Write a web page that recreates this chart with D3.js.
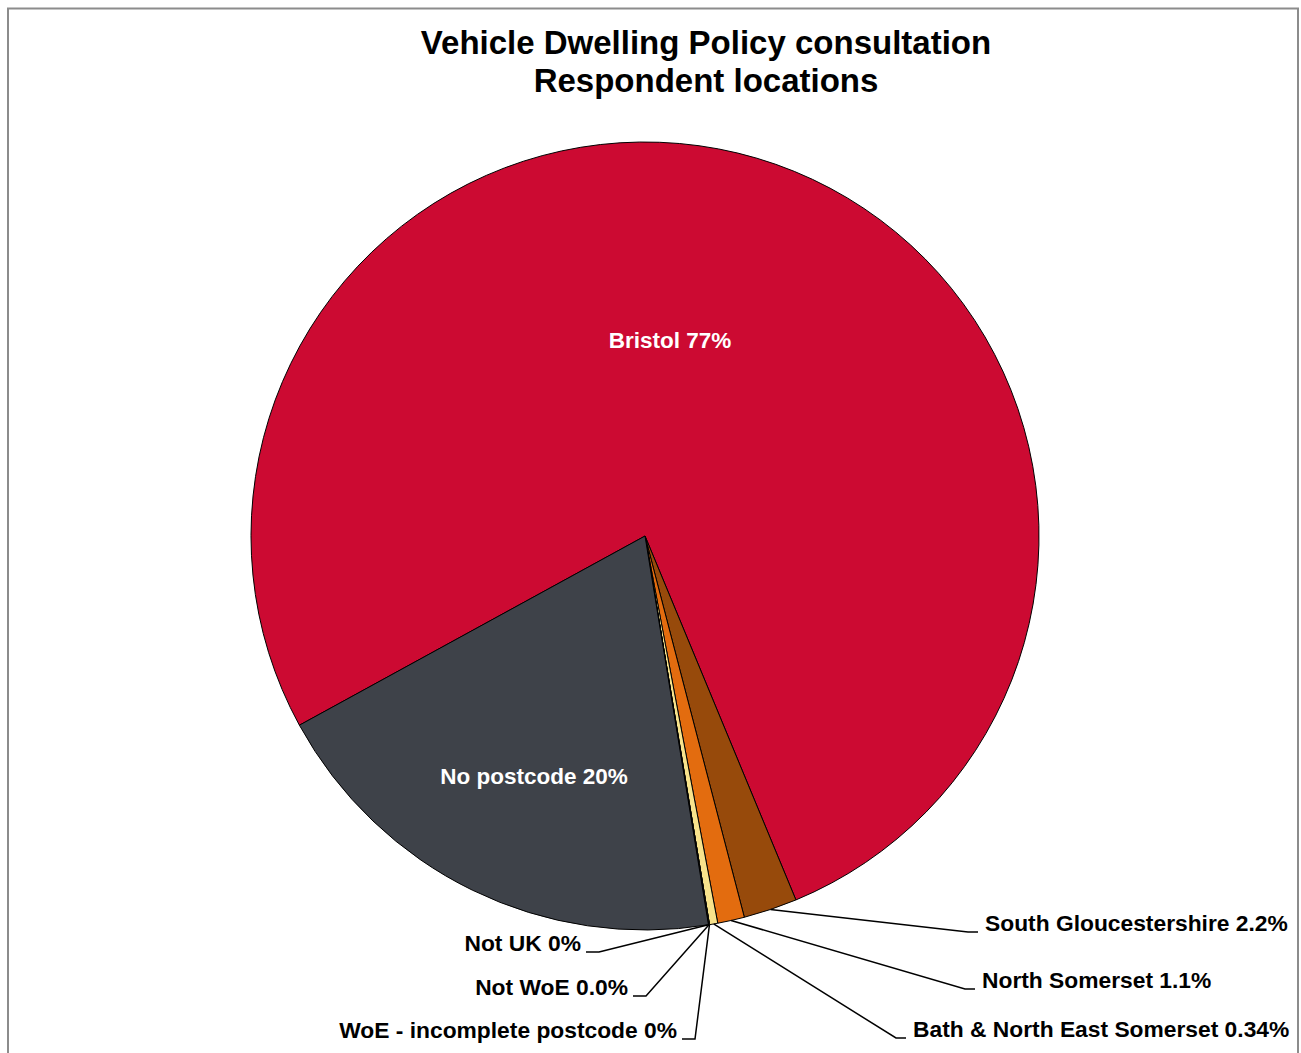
<!DOCTYPE html>
<html>
<head>
<meta charset="utf-8">
<script src="https://cdn.jsdelivr.net/npm/d3@7"></script>
<style>
  body { margin: 0; background: #fff; }
  text { font-family: "Liberation Sans", Arial, sans-serif; font-weight: bold; }
</style>
</head>
<body>
<div id="chart"></div>
<script>
var w = 1301;
var h = 1053;

// data, in drawing order (clockwise)
var categories = ["Bristol", "South Gloucestershire", "North Somerset",
                  "Bath & North East Somerset", "WoE - incomplete postcode",
                  "Not WoE", "Not UK", "No postcode"];
var values = [76.7, 2.2, 1.1, 0.34, 0, 0.04, 0, 19.6];
var valueLabels = ["77%", "2.2%", "1.1%", "0.34%", "0%", "0.0%", "0%", "20%"];
var sliceColors = ["#CC0A32", "#974A0B", "#E36C0F", "#F8E38C", "#F8E38C",
                   "#F8E38C", "#F8E38C", "#3E4249"];
var titleLines = ["Vehicle Dwelling Policy consultation", "Respondent locations"];

// label placement (inside labels centred, outside labels with leader lines)
var labelLayout = {
  "Bristol": {x: 670, y: 348, anchor: "middle", inside: true},
  "No postcode": {x: 534, y: 784, anchor: "middle", inside: true},
  "South Gloucestershire": {x: 985, y: 931, anchor: "start"},
  "North Somerset": {x: 982, y: 988, anchor: "start"},
  "Bath & North East Somerset": {x: 913, y: 1037, anchor: "start"},
  "Not UK": {x: 581, y: 951, anchor: "end"},
  "Not WoE": {x: 628, y: 995, anchor: "end"},
  "WoE - incomplete postcode": {x: 677, y: 1038, anchor: "end"}
};

var cx = 645, cy = 536, r = 394;
var startDeg = 241.3;

var svg = d3.select("#chart")
  .append("svg")
  .attr("width", w)
  .attr("height", h);

// chart frame
svg.append("rect")
  .attr("x", 8)
  .attr("y", 8.5)
  .attr("width", 1290)
  .attr("height", 1060)
  .attr("fill", "#fff")
  .attr("stroke", "#8c8c8c")
  .attr("stroke-width", 2);

// title
svg.selectAll("text.title")
  .data(titleLines)
  .enter()
  .append("text")
  .attr("class", "title")
  .attr("x", 706)
  .attr("y", function(d, i) { return 54 + i * 38; })
  .attr("text-anchor", "middle")
  .attr("font-size", "33px")
  .attr("fill", "#000")
  .text(function(d) { return d; });

var data = categories.map(function(c, i) {
  return {name: c, value: values[i], label: valueLabels[i], color: sliceColors[i]};
});

var pie = d3.pie()
  .sort(null)
  .value(function(d) { return d.value; })
  .startAngle(startDeg * Math.PI / 180)
  .endAngle(startDeg * Math.PI / 180 + 2 * Math.PI);

var arcs = pie(data);

var arc = d3.arc()
  .innerRadius(0)
  .outerRadius(r);

var g = svg.append("g")
  .attr("transform", "translate(" + cx + "," + cy + ")");

//Create slices
g.selectAll("path")
  .data(arcs)
  .enter()
  .append("path")
  .attr("d", arc)
  .attr("fill", function(d) { return d.data.color; })
  .attr("stroke", "#000")
  .attr("stroke-width", 1)
  .attr("stroke-linejoin", "round");

//Leader lines for outside labels
var outside = arcs.filter(function(d) { return !labelLayout[d.data.name].inside; });

svg.selectAll("polyline.leader")
  .data(outside)
  .enter()
  .append("polyline")
  .attr("class", "leader")
  .attr("fill", "none")
  .attr("stroke", "#000")
  .attr("stroke-width", 1.5)
  .attr("points", function(d) {
    var a = (d.startAngle + d.endAngle) / 2;
    var sx = cx + r * Math.sin(a);
    var sy = cy - r * Math.cos(a);
    var L = labelLayout[d.data.name];
    var ly = L.y + 1;
    var ex, hx;
    if (L.anchor === "start") {
      ex = L.x - 7; hx = ex - 10;
    } else {
      ex = L.x + 5; hx = ex + 13;
    }
    return [[sx, sy], [hx, ly], [ex, ly]].join(" ");
  });

//Labels
svg.selectAll("text.label")
  .data(arcs)
  .enter()
  .append("text")
  .attr("class", "label")
  .attr("x", function(d) { return labelLayout[d.data.name].x; })
  .attr("y", function(d) { return labelLayout[d.data.name].y; })
  .attr("text-anchor", function(d) { return labelLayout[d.data.name].anchor; })
  .attr("font-size", function(d) { return labelLayout[d.data.name].inside ? "22.5px" : "22.8px"; })
  .attr("fill", function(d) { return labelLayout[d.data.name].inside ? "#fff" : "#000"; })
  .text(function(d) { return d.data.name + " " + d.data.label; });
</script>
</body>
</html>
